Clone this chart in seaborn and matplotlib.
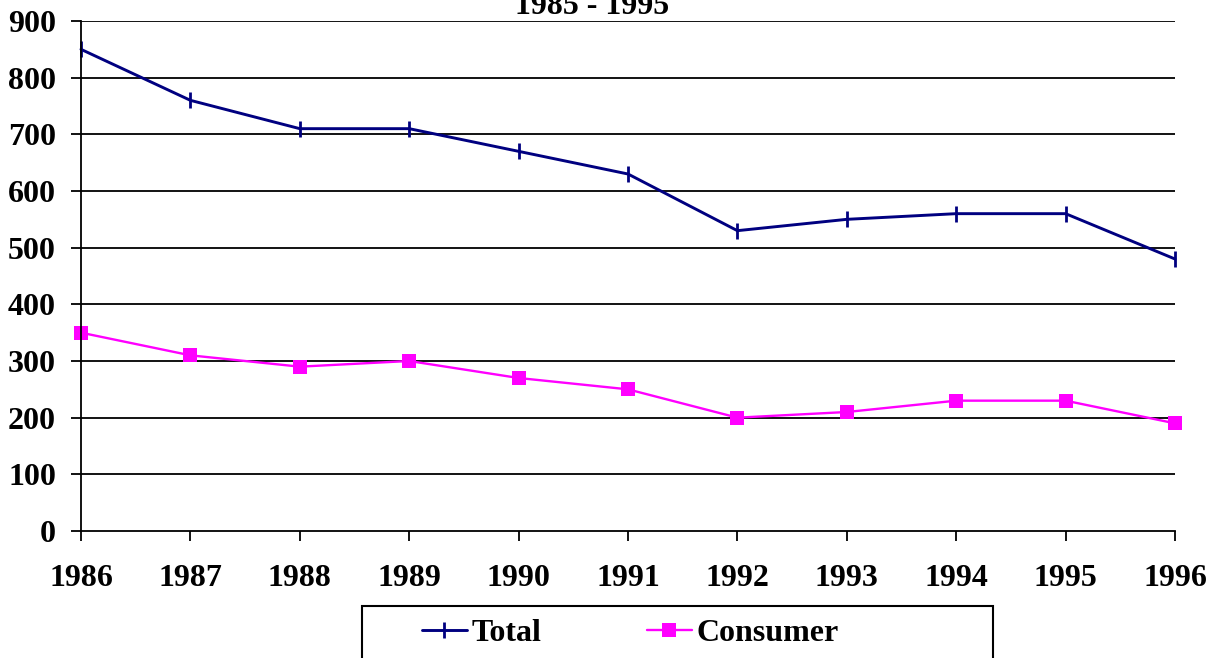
import matplotlib
matplotlib.use("Agg")
import matplotlib.pyplot as plt
import seaborn as sns
import pandas as pd
from matplotlib.patches import Rectangle

years = [1986, 1987, 1988, 1989, 1990, 1991, 1992, 1993, 1994, 1995, 1996]
total = [850, 760, 710, 710, 670, 630, 530, 550, 560, 560, 480]
consumer = [350, 310, 290, 300, 270, 250, 200, 210, 230, 230, 190]
title = "1985 - 1995"

sns.set_theme(style="white")
plt.rcParams["font.family"] = ["Liberation Serif", "DejaVu Serif"]
plt.rcParams["font.weight"] = "bold"
plt.rcParams["text.color"] = "black"
plt.rcParams["xtick.color"] = "black"
plt.rcParams["ytick.color"] = "black"
plt.rcParams["axes.labelcolor"] = "black"

FS = 23

df = pd.DataFrame({"Year": years, "Total": total, "Consumer": consumer})

fig = plt.figure(figsize=(12.17, 6.58), dpi=100)
ax = fig.add_axes([81 / 1217, 1 - 531 / 658, (1175 - 81) / 1217, (531 - 21) / 658])

# Total series
sns.lineplot(data=df, x="Year", y="Total", ax=ax, color="#000080", linewidth=2.1,
             marker="|", markersize=12, markeredgewidth=2, markeredgecolor="#000080",
             label="Total", clip_on=False, legend=False)
# Consumer series
sns.lineplot(data=df, x="Year", y="Consumer", ax=ax, color="#FF00FF", linewidth=1.7,
             marker="s", markersize=10, markeredgewidth=0, markerfacecolor="#FF00FF",
             label="Consumer", clip_on=False, legend=False)

ax.set_xlim(1986, 1996)
ax.set_ylim(0, 900)
ax.set_xticks(years)
ax.set_yticks(range(0, 1000, 100))
ax.set_xlabel("")
ax.set_ylabel("")

for y in range(100, 1000, 100):
    ax.axhline(y, color="black", linewidth=1.3, zorder=0)

for side in ["top", "right"]:
    ax.spines[side].set_visible(False)
for side in ["left", "bottom"]:
    ax.spines[side].set_color("black")
    ax.spines[side].set_linewidth(1.3)

ax.tick_params(axis="y", direction="out", length=7, width=1.3, colors="black",
               labelsize=FS, pad=11, left=True)
ax.tick_params(axis="x", direction="out", length=7, width=1.3, colors="black",
               labelsize=FS, pad=17, bottom=True)
for lbl in ax.get_xticklabels() + ax.get_yticklabels():
    lbl.set_fontweight("bold")

fig.text(592 / 1217, 1 - 14 / 658, title, ha="center", va="baseline",
         fontsize=FS, fontweight="bold", color="black")

# legend box (bottom cut off by figure edge)
fig.patches.append(Rectangle((362 / 1217, -0.1), 631 / 1217, 0.1 + (1 - 606 / 658),
                             transform=fig.transFigure, fill=False,
                             edgecolor="black", linewidth=1.5))
handles, labels = ax.get_legend_handles_labels()
leg = fig.legend(handles, labels, loc="center left", bbox_to_anchor=(422 / 1217, 1 - 633 / 658),
                 ncol=2, frameon=False, borderpad=0, borderaxespad=0, handlelength=1.4,
                 handletextpad=0.15, columnspacing=3.3,
                 prop={"size": FS, "weight": "bold"})
for t in leg.get_texts():
    t.set_color("black")

fig.savefig("out.png", dpi=100)
